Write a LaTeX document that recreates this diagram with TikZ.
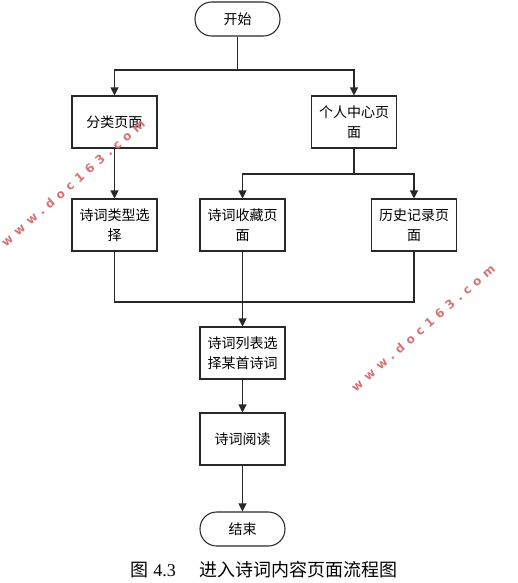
\documentclass[tikz,border=0pt]{standalone}
\usepackage{fontspec}
\setmainfont{Liberation Serif}
\newfontfamily\cjk{Noto Sans CJK SC}
\newfontfamily\wmfont[LetterSpace=43]{DejaVu Sans}
\usetikzlibrary{arrows.meta}
\definecolor{wmred}{RGB}{215,115,115}
\definecolor{linegray}{RGB}{40,40,40}
\begin{document}
\begin{tikzpicture}[x=0.75pt,y=-0.75pt,
  box/.style={draw=linegray,line width=0.8pt,minimum width=63.75pt,minimum height=39pt,inner sep=0pt,align=center,font=\cjk\fontsize{10.5}{15}\selectfont},
  term/.style={box,minimum height=25.5pt,rounded corners=12.5pt},
  conn/.style={draw=linegray,line width=0.8pt},
  arr/.style={conn,-{Triangle[length=6pt,width=6pt]}},
  wm/.style={text=wmred,font=\wmfont\bfseries\fontsize{9}{9}\selectfont,rotate=41}
]
\useasboundingbox (0,0) rectangle (518,583);
\node[term] (start) at (237.5,19) {开始};
\node[box] (fl) at (114.5,122) {分类页面};
\node[box] (gr) at (354,122) {个人中心页\\面};
\node[box] (lx) at (114.5,225) {诗词类型选\\择};
\node[box] (sc) at (242.5,225) {诗词收藏页\\面};
\node[box] (ls) at (414,225) {历史记录页\\面};
\node[box] (lb) at (242.5,353) {诗词列表选\\择某首诗词};
\node[box] (yd) at (242.5,439) {诗词阅读};
\node[term] (end) at (242.5,529) {结束};
\coordinate (j1) at (237.5,70);
\coordinate (j2) at (354,174);
\coordinate (j3) at (242.5,302);
\draw[conn] (start) -- (j1);
\draw[arr] (j1) -| (fl);
\draw[arr] (j1) -| (gr);
\draw[arr] (fl) -- (lx);
\draw[conn] (gr) -- (j2);
\draw[arr] (j2) -| (sc);
\draw[arr] (j2) -| (ls);
\draw[conn] (lx) |- (j3) -| (ls);
\draw[arr] (sc) -- (lb);
\draw[arr] (lb) -- (yd);
\draw[arr] (yd) -- (end);
\node[font=\fontsize{13.5}{16}\selectfont] (cap) at (264,570) {{\cjk 图} 4.3\hspace{1.3em}{\cjk 进入诗词内容页面流程图}};
\node[wm] (wm1) at (73,183) {www.doc163.com};
\node[wm] (wm2) at (423,328) {www.doc163.com};
\end{tikzpicture}
\end{document}
